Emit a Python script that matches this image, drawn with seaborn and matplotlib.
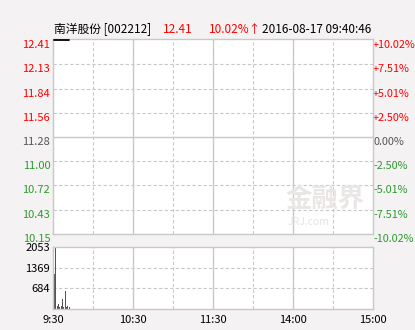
import matplotlib
matplotlib.use("Agg")
import matplotlib.pyplot as plt
import seaborn as sns
import pandas as pd
import numpy as np

sns.set_theme(style="white")
plt.rcParams['font.family'] = ['Noto Sans CJK SC', 'DejaVu Sans']

# ---- data ----
minutes = [1, 2, 3, 4, 5, 6, 7, 8, 9, 10, 11, 12]
price = [12.41, 12.41, 12.41, 12.41, 12.41, 12.41, 12.41, 12.41, 12.41, 12.41, 12.41, 12.41]
volume = [1160, 2053, 100, 170, 70, 100, 340, 70, 580, 70, 100, 60]

price_ticks = [12.41, 12.13, 11.84, 11.56, 11.28, 11.00, 10.72, 10.43, 10.15]
pct_labels = ["+10.02%", "+7.51%", "+5.01%", "+2.50%", "0.00%", "-2.50%", "-5.01%", "-7.51%", "-10.02%"]
vol_ticks = [684, 1369, 2053]
time_pos = [0, 60, 120, 180, 240]
time_labels = ["9:30", "10:30", "11:30", "14:00", "15:00"]
title_name = "南洋股份 [002212]"
title_price = "12.41"
title_pct = "10.02%↑"
title_time = "2016-08-17 09:40:46"

RED = "#FF0000"
GREEN = "#2E9A2E"
GRAYTXT = "#555555"
BG = "#F4F2F2"
GRID = "#C8C8C8"

fig = plt.figure(figsize=(4.15, 3.3), dpi=100, facecolor=BG)
ax = fig.add_axes([53/415, 1-234/330, 320/415, 195/330])
axv = fig.add_axes([53/415, 1-309/330, 320/415, 62/330])

df = pd.DataFrame({"t": minutes, "p": price, "v": volume})

for a in (ax, axv):
    a.set_facecolor("white")
    for s in a.spines.values():
        s.set_color(GRID)
        s.set_linewidth(1.0)
    a.set_xlim(0, 240)
    for xv in range(30, 240, 30):
        if xv in (60, 120, 180):
            a.axvline(xv, color=GRID, lw=1.0, zorder=0)
        else:
            a.axvline(xv, color=GRID, lw=0.8, ls=(0, (3, 2)), zorder=0)
    a.tick_params(length=0, pad=2)

# main price chart
ylo = price_ticks[-1]
yhi = price_ticks[0]
ax.set_ylim(ylo, yhi + 0.012)
for yv in price_ticks[1:-1]:
    if abs(yv - 11.28) < 1e-6:
        ax.axhline(yv, color=GRID, lw=1.0, zorder=0)
    else:
        ax.axhline(yv, color=GRID, lw=0.8, ls=(0, (3, 2)), zorder=0)
sns.lineplot(data=df, x="t", y="p", ax=ax, color="black", lw=1.3, zorder=5)
ax.set_yticks(price_ticks)
ax.set_yticklabels([f"{v:.2f}" for v in price_ticks], fontsize=8)
for lbl, v in zip(ax.get_yticklabels(), price_ticks):
    if v > 11.28 + 1e-6:
        lbl.set_color(RED)
    elif v < 11.28 - 1e-6:
        lbl.set_color(GREEN)
    else:
        lbl.set_color(GRAYTXT)
    lbl.set_va("top")
ax.set_xticks([])
ax.set_xlabel("")
ax.set_ylabel("")

axr = ax.twinx()
axr.set_ylim(ax.get_ylim())
axr.set_yticks(price_ticks)
axr.set_yticklabels(pct_labels, fontsize=7.8)
for lbl, v in zip(axr.get_yticklabels(), price_ticks):
    if v > 11.28 + 1e-6:
        lbl.set_color(RED)
    elif v < 11.28 - 1e-6:
        lbl.set_color(GREEN)
    else:
        lbl.set_color(GRAYTXT)
    lbl.set_va("top")
axr.tick_params(length=0, pad=0)
for s in axr.spines.values():
    s.set_visible(False)
axr.set_zorder(ax.get_zorder() - 1)
ax.patch.set_visible(True)
axr.patch.set_visible(False)

# watermark
ax.text(0.85, 0.175, "金融界", transform=ax.transAxes, fontsize=19, color="#EAE6E6",
        ha="center", va="center", fontweight="bold", zorder=0.5)
ax.text(0.80, 0.06, "JRJ.com", transform=ax.transAxes, fontsize=7.5, color="#E4E4E4",
        ha="center", va="center", style="italic", zorder=0.5)

# volume chart
axv.set_ylim(0, vol_ticks[-1])
for yv in vol_ticks[:-1]:
    axv.axhline(yv, color=GRID, lw=0.8, ls=(0, (3, 2)), zorder=0)
axv.bar(df["t"], df["v"], width=0.75, color="#555555", linewidth=0,
        align="center", zorder=2)
axv.set_yticks(vol_ticks)
axv.set_yticklabels([str(v) for v in vol_ticks], fontsize=8, color="black")
axv.set_xticks(time_pos)
axv.set_xticklabels(time_labels, fontsize=8, color="black")
axv.tick_params(axis="x", pad=4)

# title
fig.text(54/415, 1-33/330, title_name, fontsize=8.5, color="black", va="baseline")
fig.text(163/415, 1-33/330, title_price, fontsize=8.5, color=RED, va="baseline")
fig.text(209/415, 1-33/330, title_pct, fontsize=8.5, color=RED, va="baseline")
fig.text(262/415, 1-33/330, title_time, fontsize=8.5, color="black", va="baseline")

fig.savefig("out.png", dpi=100, facecolor=BG)
